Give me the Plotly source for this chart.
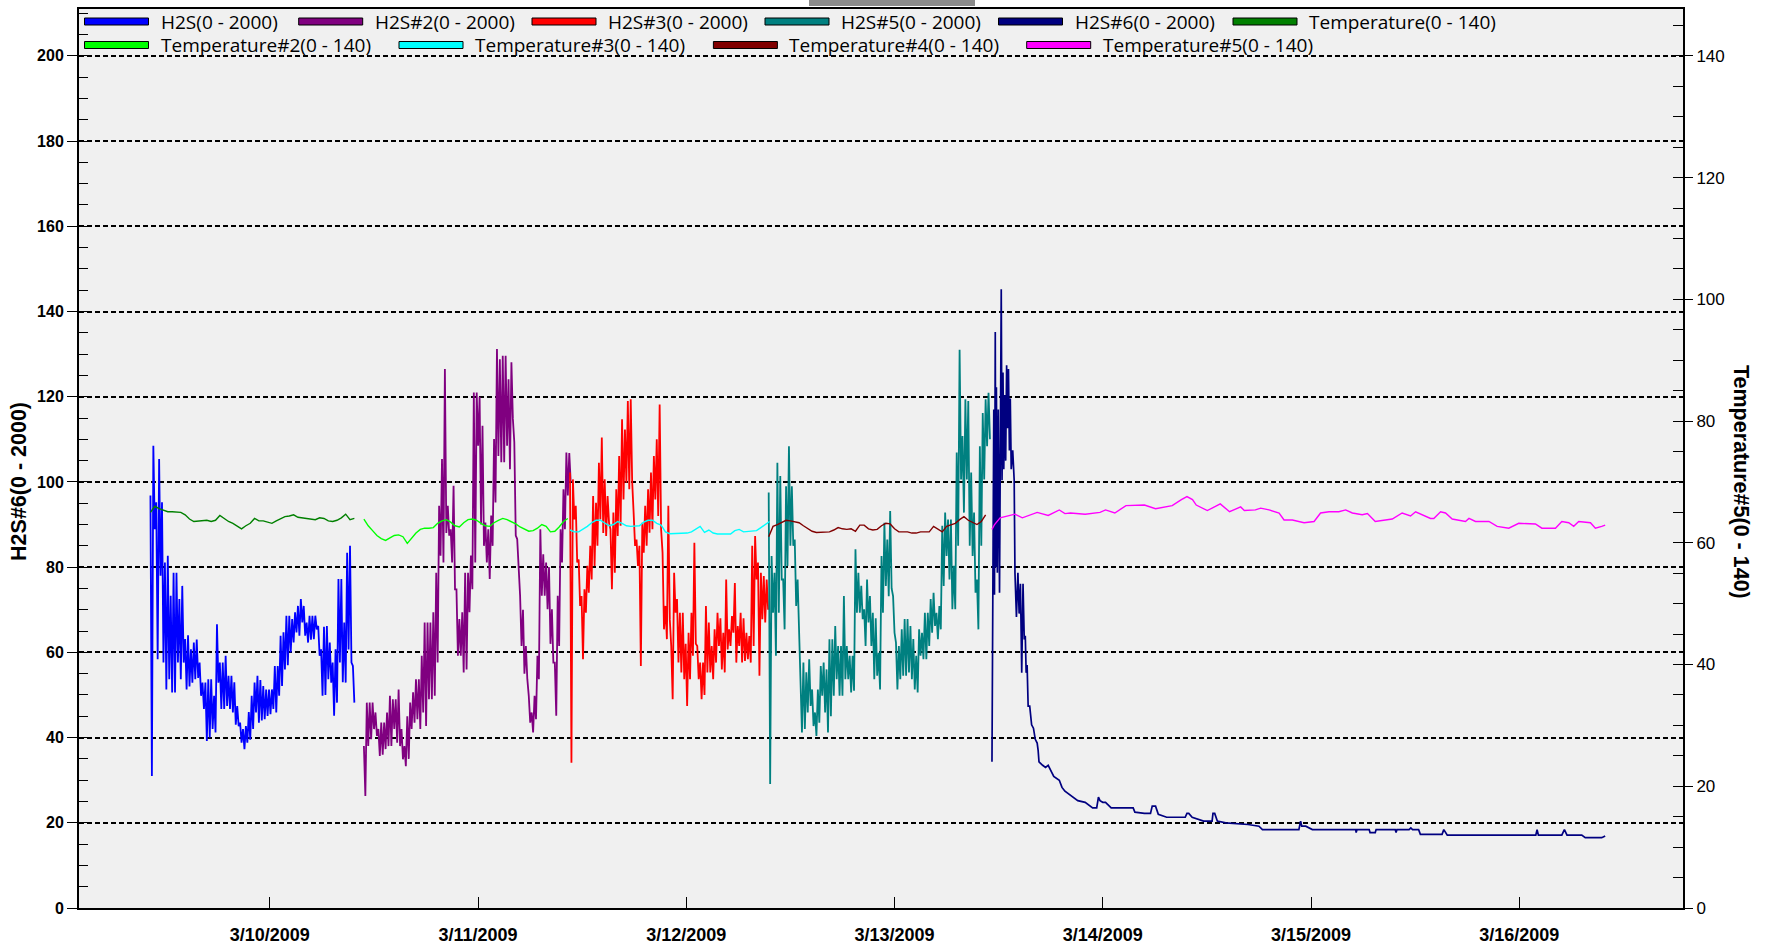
import pandas as pd
import plotly.graph_objects as go

# ---------------- data ----------------
# The H2S probes are very noisy: for every 20-minute slot the picture shows a
# high and a low reading; they are stored as separate lists and drawn
# high, low, high, low ... at 10-minute spacing.
SLOT_HALF = "10min"
TEMP_STEP = "30min"

h2s_1_start = "2009-03-09 10:15"
h2s_1_hi = [96.8, 108.5, 95.2, 105.4, 95.2, 81.1, 82.7, 73.3, 78.7, 78.7, 72.5, 75.6, 63.1, 64.0,
            60.7, 62.3, 63.0, 57.6, 52.9, 52.9, 53.7, 53.7, 49.8, 66.6, 57.6, 57.6, 59.2, 54.5,
            54.5, 53.0, 47.4, 43.5, 42.0, 42.7, 46.0, 49.8, 52.9, 54.5, 53.5, 52.1, 51.3, 51.3,
            51.3, 56.8, 56.8, 63.9, 64.7, 68.6, 68.6, 67.8, 69.4, 70.9, 72.5, 70.9, 67.0, 68.6,
            68.6, 68.6, 66.2, 60.7, 66.0, 66.2, 62.3, 57.6, 60.7, 77.2, 77.2, 67.0, 83.4, 85.0,
            56.8]
h2s_1_lo = [31.0, 88.9, 58.4, 78.0, 57.6, 51.3, 53.7, 50.6, 50.6, 57.6, 53.7, 57.6, 51.3, 52.0,
            52.9, 53.7, 54.0, 49.8, 46.7, 39.2, 40.0, 42.0, 41.2, 52.9, 46.7, 46.7, 47.4, 46.7,
            45.9, 43.0, 42.7, 38.8, 37.3, 38.8, 39.5, 42.0, 45.9, 43.5, 44.0, 44.3, 45.1, 45.5,
            46.7, 45.9, 49.8, 52.1, 56.0, 57.0, 60.0, 62.3, 64.7, 63.9, 67.0, 63.9, 62.3, 63.0,
            63.1, 65.4, 59.2, 49.8, 50.0, 53.7, 52.9, 45.1, 48.2, 57.6, 53.0, 52.9, 60.7, 57.6,
            48.2]

temp_1_start = "2009-03-09 10:15"
temp_1 = [65.0, 66.0, 65.6, 65.3, 65.1, 65.1, 65.0, 65.0, 64.6, 63.9, 63.5, 63.6, 63.6, 63.7,
          63.5, 63.7, 64.5, 64.0, 63.5, 63.2, 62.8, 62.3, 62.8, 63.2, 64.0, 63.6, 63.6, 63.4,
          63.2, 63.6, 64.0, 64.3, 64.4, 64.6, 64.2, 64.1, 64.0, 63.9, 63.8, 64.1, 64.0, 63.6,
          63.5, 63.7, 64.1, 64.7, 63.8, 64.0]

h2s_2_start = "2009-03-10 10:51"
h2s_2_hi = [38.0, 48.2, 48.2, 48.2, 45.9, 42.0, 43.5, 43.5, 45.9, 49.8, 49.0, 49.0, 51.3, 42.0,
            38.0, 45.0, 48.2, 50.6, 53.7, 53.7, 59.2, 67.0, 67.0, 67.0, 69.4, 78.7, 94.4, 105.4,
            126.5, 94.4, 88.9, 99.1, 74.8, 67.8, 69.4, 78.7, 78.7, 82.7, 121.0, 121.0, 120.0,
            113.2, 90.5, 88.9, 92.1, 110.1, 131.2, 128.8, 129.6, 129.6, 124.1, 128.1, 109.3, 86.6,
            73.3, 70.0, 61.5, 49.8, 45.9, 49.8, 59.2, 88.9, 83.0, 81.1, 80.0, 70.1, 57.6, 73.3,
            88.9, 98.3, 106.9, 106.8]
h2s_2_lo = [26.3, 38.0, 39.6, 42.0, 40.4, 35.7, 36.0, 37.3, 38.0, 38.0, 42.0, 38.8, 38.0, 34.9,
            33.3, 35.0, 42.0, 43.5, 44.3, 42.0, 45.9, 42.7, 49.0, 49.0, 49.8, 57.6, 82.7, 81.1,
            88.0, 87.4, 81.1, 74.8, 59.2, 59.2, 55.3, 56.0, 69.4, 74.8, 81.1, 108.5, 90.0,
            85.0, 81.1, 77.2, 85.0, 95.2, 106.1, 104.6, 104.6, 108.5, 103.0, 114.8, 87.4, 81.1,
            61.5, 55.0, 53.7, 43.5, 41.2, 44.3, 53.7, 73.3, 73.3, 70.1, 62.0, 57.6, 45.1, 61.5,
            81.1, 88.9, 96.8, 100.0]

temp_2_start = "2009-03-10 10:51"
temp_2 = [63.9, 62.8, 62.0, 61.2, 60.7, 60.4, 60.8, 61.2, 61.3, 61.0, 59.9, 60.8, 61.6, 62.2,
          62.4, 62.4, 62.5, 63.2, 63.6, 63.8, 63.4, 62.8, 62.6, 63.3, 63.8, 63.9, 63.7, 63.2,
          62.8, 62.7, 63.3, 63.7, 64.0, 63.8, 63.5, 63.1, 62.6, 62.2, 61.9, 62.0, 62.4, 63.0,
          62.7, 61.8, 61.9, 62.6, 63.5, 64.0]

h2s_3_start = "2009-03-11 10:36"
h2s_3_hi = [102.2, 100.6, 94.4, 81.8, 73.2, 74.8, 80.3, 85.0, 96.7, 95.1, 104.5, 110.4, 100.6,
            96.7, 88.9, 92.8, 98.3, 106.1, 114.7, 112.3, 119.0, 119.4, 92.8, 86.5, 85.0, 90.4,
            94.4, 98.3, 102.2, 106.1, 110.0, 118.2, 83.4, 70.9, 94.4, 61.5, 78.7, 72.5, 69.3,
            69.3, 62.0, 64.6, 69.3, 85.7, 61.5, 57.6, 57.6, 70.9, 67.0, 61.5, 65.4, 69.3, 68.0,
            64.6, 77.1, 65.4, 68.5, 76.3, 66.2, 69.3, 68.0, 64.6, 63.8, 85.0, 87.3, 81.1, 78.7,
            77.9, 77.1]
h2s_3_lo = [34.1, 91.2, 81.1, 70.9, 58.4, 69.3, 74.0, 77.1, 80.3, 85.0, 91.2, 88.0, 87.3,
            90.4, 74.8, 78.7, 87.3, 89.7, 95.9, 99.8, 98.3, 100.0, 85.0, 80.3, 56.8, 83.4,
            85.0, 88.1, 88.9, 95.9, 92.0, 88.9, 65.4, 63.1, 67.8, 49.0, 69.3, 57.6, 55.3,
            53.7, 47.4, 53.7, 59.2, 62.0, 53.7, 49.0, 50.0, 55.3, 55.3, 53.7, 57.6, 61.5, 56.0,
            55.3, 60.7, 61.5, 64.6, 57.6, 61.5, 57.6, 58.0, 58.4, 57.6, 61.5, 77.1, 54.5, 67.8,
            67.0, 70.0]

temp_3_start = "2009-03-11 10:36"
temp_3 = [62.1, 61.8, 61.8, 62.2, 62.7, 63.3, 63.7, 63.7, 63.2, 62.8, 63.0, 63.5, 63.2, 62.8,
          62.7, 62.7, 62.8, 63.4, 63.7, 63.7, 63.2, 62.9, 61.8, 61.5, 61.5, 61.5, 61.6, 61.6,
          61.8, 62.2, 62.7, 61.7, 62.1, 61.6, 61.45, 61.45, 61.5, 61.45, 62.0, 62.2, 61.8, 61.9,
          61.9, 62.0, 62.5, 63.0, 63.5]

h2s_5_start = "2009-03-12 09:30"
h2s_5_hi = [97.5, 82.6, 78.7, 104.5, 101.4, 77.1, 99.0, 108.4, 99.0, 86.5, 77.1, 57.6, 57.6,
            55.3, 58.4, 51.3, 45.9, 51.3, 56.8, 57.6, 56.0, 63.1, 63.1, 66.2, 61.5, 61.5, 73.2,
            61.5, 59.2, 59.2, 84.2, 78.7, 75.6, 70.1, 77.1, 73.2, 69.3, 68.0, 59.9, 82.6, 90.4,
            86.5, 93.2, 73.2, 62.3, 61.5, 65.4, 67.8, 67.8, 66.2, 63.1, 59.2, 65.4, 64.6, 69.3,
            69.3, 72.5, 74.0, 69.3, 70.9, 89.7, 92.8, 91.2, 91.2, 80.3, 106.9, 131.0, 110.8,
            119.4, 119.0, 102.2, 92.8, 77.1, 108.4, 116.2, 119.4, 120.9]
h2s_5_lo = [29.1, 69.3, 59.2, 69.3, 77.1, 65.4, 80.3, 85.0, 85.0, 70.9, 64.6, 41.2, 42.0,
            45.9, 47.4, 42.7, 40.4, 43.5, 49.8, 45.9, 41.2, 45.0, 49.8, 53.7, 49.8, 49.8, 53.7,
            53.7, 50.6, 51.0, 69.3, 69.3, 67.8, 61.5, 67.0, 61.5, 53.7, 54.5, 51.3, 69.3, 75.6,
            73.2, 75.0, 64.6, 51.3, 53.7, 54.5, 54.5, 55.3, 53.7, 51.3, 50.6, 59.2, 58.4, 58.4,
            61.5, 64.6, 66.2, 63.1, 65.4, 75.6, 82.6, 77.1, 70.1, 70.1, 85.0, 100.6, 92.8,
            100.6, 85.0, 82.6, 74.0, 65.4, 85.0, 100.6, 108.4, 110.0]

temp_4_start = "2009-03-12 09:30"
temp_4 = [61.0, 62.7, 63.0, 63.3, 63.7, 63.6, 63.5, 63.3, 62.8, 62.3, 61.9, 61.7, 61.7, 61.8,
          61.8, 62.1, 62.5, 62.3, 62.2, 62.3, 61.9, 62.9, 62.9, 62.3, 62.1, 62.2, 62.8, 63.2,
          63.1, 62.3, 61.8, 61.8, 61.8, 61.6, 61.6, 61.8, 61.8, 61.8, 62.7, 62.2, 61.8, 62.7,
          63.0, 63.2, 63.8, 64.3, 63.7, 63.4, 63.0, 63.5, 64.6]

# (hours after 3/13/2009 00:00, value)
h2s_6_origin = "2009-03-13 00:00"
h2s_6 = [(11.23, 34.3), (11.30, 72.6), (11.44, 117.0), (11.52, 73.5), (11.61, 135.2),
         (11.68, 80.0), (11.74, 122.2), (11.85, 78.7), (11.96, 117.0), (12.10, 74.0),
         (12.30, 145.2), (12.39, 100.4), (12.50, 125.7), (12.59, 103.0), (12.70, 120.4),
         (12.81, 105.0), (12.92, 127.4), (13.02, 112.6), (13.13, 126.5), (13.24, 107.4),
         (13.34, 119.6), (13.45, 103.0), (13.62, 107.4), (13.79, 100.4), (13.88, 78.7),
         (14.05, 68.3), (14.22, 78.7), (14.36, 69.1), (14.51, 76.1), (14.66, 55.2),
         (14.81, 76.1), (14.95, 63.0), (15.07, 63.9), (15.17, 55.2), (15.28, 57.0),
         (15.40, 47.4), (15.58, 47.4), (15.80, 43.0), (16.01, 42.2), (16.22, 39.6),
         (16.44, 38.7), (16.55, 37.0), (16.65, 34.3), (17.07, 33.5), (17.40, 33.0),
         (17.71, 33.5), (18.35, 30.9), (18.99, 30.0), (19.30, 28.3), (19.64, 27.4),
         (20.27, 26.5), (21.12, 25.2), (21.97, 24.8), (22.83, 23.5), (23.30, 23.5),
         (23.50, 26.0), (23.68, 25.2), (24.00, 24.8), (24.32, 24.8), (24.97, 23.5),
         (26.67, 23.5), (27.50, 23.5), (27.70, 22.5), (28.80, 22.2), (29.50, 22.2),
         (29.70, 23.9), (30.08, 23.9), (30.40, 22.0), (31.36, 21.3), (33.06, 21.3),
         (33.50, 21.3), (33.70, 22.2), (33.91, 22.2), (34.30, 21.3), (35.62, 20.4),
         (36.60, 20.4), (36.70, 22.2), (36.90, 22.2), (37.20, 20.4), (38.18, 20.0),
         (40.74, 19.6), (42.00, 19.2), (42.40, 18.4), (46.60, 18.4), (46.80, 20.4),
         (46.93, 19.2), (47.39, 19.2), (48.15, 18.4), (53.15, 18.4), (53.20, 17.7),
         (53.30, 18.4), (54.70, 18.4), (54.80, 17.7), (55.40, 17.7), (55.50, 18.4),
         (57.70, 18.4), (57.80, 17.7), (57.90, 18.4), (59.30, 18.4), (59.50, 18.8),
         (59.70, 18.4), (60.40, 18.4), (60.60, 17.3), (63.10, 17.3), (63.30, 18.4),
         (63.70, 17.1), (73.90, 17.1), (74.05, 18.4), (74.20, 17.1), (76.90, 17.1),
         (77.20, 18.4), (77.50, 17.1), (79.20, 17.1), (79.60, 16.5), (81.50, 16.5),
         (81.90, 16.9)]

temp_5 = [(11.23, 62.2), (11.53, 63.0), (12.17, 64.1), (13.88, 64.7), (14.73, 64.1),
          (16.44, 65.0), (17.71, 64.5), (18.99, 65.4), (19.64, 64.8), (20.27, 64.9),
          (21.97, 64.7), (23.68, 65.0), (24.32, 65.4), (25.39, 64.9), (26.67, 66.1),
          (28.80, 66.2), (30.08, 65.6), (32.00, 66.1), (33.06, 67.1), (33.70, 67.6),
          (34.34, 67.1), (34.77, 66.2), (36.05, 65.3), (37.54, 66.4), (38.61, 65.1),
          (39.89, 65.9), (40.31, 65.3), (41.59, 65.4), (42.20, 65.7), (43.16, 65.4),
          (44.32, 64.9), (44.89, 63.75), (45.85, 63.75), (46.60, 63.5), (47.20, 63.3),
          (48.35, 63.5), (49.10, 64.9), (50.07, 65.1), (51.20, 65.1), (51.99, 65.4),
          (52.76, 64.9), (53.90, 64.6), (54.50, 64.8), (55.40, 63.5), (56.60, 63.75),
          (57.36, 63.9), (58.50, 64.9), (59.47, 64.4), (60.05, 65.1), (60.80, 64.6),
          (61.77, 64.0), (62.15, 64.0), (62.93, 65.1), (63.50, 64.9), (64.27, 63.9),
          (65.80, 63.5), (66.20, 64.0), (66.95, 63.5), (68.50, 63.5), (69.45, 62.7),
          (70.79, 62.4), (71.94, 63.2), (73.86, 63.1), (74.60, 62.4), (76.17, 62.4),
          (76.90, 63.5), (77.70, 63.3), (78.27, 62.7), (78.85, 63.5), (80.20, 63.3),
          (80.77, 62.4), (81.50, 62.7), (81.90, 62.9)]

tick_dates = ["2009-03-10", "2009-03-11", "2009-03-12", "2009-03-13",
              "2009-03-14", "2009-03-15", "2009-03-16"]
tick_text = ["3/10/2009", "3/11/2009", "3/12/2009", "3/13/2009",
             "3/14/2009", "3/15/2009", "3/16/2009"]

series_names = ["H2S(0 - 2000)", "H2S#2(0 - 2000)", "H2S#3(0 - 2000)", "H2S#5(0 - 2000)",
                "H2S#6(0 - 2000)", "Temperature(0 - 140)", "Temperature#2(0 - 140)",
                "Temperature#3(0 - 140)", "Temperature#4(0 - 140)", "Temperature#5(0 - 140)"]
series_colors = ["#0000ff", "#800080", "#ff0000", "#008080", "#000080",
                 "#008000", "#00ff00", "#00ffff", "#800000", "#ff00ff"]

# ---------------- figure ----------------
W, H = 1767, 945
PL, PR, PT, PB = 79, 1683, 9, 908


def px_x(px):
    return (px - PL) / (PR - PL)


def px_y(py):
    return (PB - py) / (PB - PT)


def regular(start, freq, vals):
    return pd.date_range(start=start, periods=len(vals), freq=freq), vals


def hi_lo(start, hi, lo):
    vals = []
    for h, l in zip(hi, lo):
        vals.extend([h, l])
    return pd.date_range(start=start, periods=len(vals), freq=SLOT_HALF), vals


def by_hours(origin, pts):
    t0 = pd.Timestamp(origin)
    xs = [t0 + pd.Timedelta(hours=h) for h, _ in pts]
    ys = [v for _, v in pts]
    return xs, ys


fig = go.Figure()


def add(xy, color, width, axis):
    x, y = xy
    fig.add_trace(go.Scatter(x=x, y=y, mode="lines", yaxis=axis, showlegend=False,
                             hoverinfo="skip",
                             line=dict(color=color, width=width)))


add(hi_lo(h2s_1_start, h2s_1_hi, h2s_1_lo), series_colors[0], 1.8, "y")
add(hi_lo(h2s_2_start, h2s_2_hi, h2s_2_lo), series_colors[1], 1.8, "y")
add(hi_lo(h2s_3_start, h2s_3_hi, h2s_3_lo), series_colors[2], 1.8, "y")
add(hi_lo(h2s_5_start, h2s_5_hi, h2s_5_lo), series_colors[3], 1.8, "y")
add(by_hours(h2s_6_origin, h2s_6), series_colors[4], 1.7, "y")
add(regular(temp_1_start, TEMP_STEP, temp_1), series_colors[5], 1.4, "y2")
add(regular(temp_2_start, TEMP_STEP, temp_2), series_colors[6], 1.4, "y2")
add(regular(temp_3_start, TEMP_STEP, temp_3), series_colors[7], 1.4, "y2")
add(regular(temp_4_start, TEMP_STEP, temp_4), series_colors[8], 1.4, "y2")
add(by_hours(h2s_6_origin, temp_5), series_colors[9], 1.4, "y2")

FONT = "Liberation Sans"

fig.update_layout(
    width=W, height=H,
    margin=dict(l=PL, r=W - PR, t=PT, b=H - PB, autoexpand=False),
    paper_bgcolor="#ffffff",
    plot_bgcolor="#f0f0f0",
    showlegend=False,
    xaxis=dict(
        type="date",
        range=["2009-03-09 02:01", "2009-03-16 18:52"],
        tickmode="array", tickvals=tick_dates, ticktext=tick_text,
        ticks="inside", ticklen=11, tickwidth=1, tickcolor="#000000",
        tickfont=dict(family=FONT, size=18, color="#000000", weight="bold"),
        ticklabelstandoff=9,
        showgrid=False, zeroline=False,
        showline=True, linecolor="#000000", linewidth=2, mirror=True,
    ),
    yaxis=dict(
        range=[0, 211.0],
        tickmode="linear", tick0=0, dtick=20,
        ticks="outside", ticklen=10, tickwidth=1, tickcolor="#000000",
        tickfont=dict(family=FONT, size=16, color="#000000", weight="bold"),
        minor=dict(dtick=5, tick0=0, ticks="inside", ticklen=9, tickwidth=1,
                   tickcolor="#000000", showgrid=False),
        showgrid=True, gridcolor="#000000", gridwidth=1.7, griddash="5px,3px",
        zeroline=False,
        showline=True, linecolor="#000000", linewidth=2,
    ),
    yaxis2=dict(
        overlaying="y", side="right",
        range=[0, 147.7],
        tickmode="linear", tick0=0, dtick=20,
        ticks="outside", ticklen=8, tickwidth=1, tickcolor="#000000",
        tickfont=dict(family=FONT, size=17, color="#000000"),
        minor=dict(dtick=5, tick0=0, ticks="inside", ticklen=10, tickwidth=1,
                   tickcolor="#000000", showgrid=False),
        showgrid=False, zeroline=False,
        showline=True, linecolor="#000000", linewidth=2,
    ),
)

annotations = [
    dict(text="<b>H2S#6(0 - 2000)</b>", xref="paper", yref="y", x=px_x(19), y=100,
         textangle=-90, showarrow=False, xanchor="center", yanchor="middle",
         font=dict(family=FONT, size=21.5, color="#000000")),
    dict(text="<b>Temperature#5(0 - 140)</b>", xref="paper", yref="y", x=px_x(1741), y=100,
         textangle=90, showarrow=False, xanchor="center", yanchor="middle",
         font=dict(family=FONT, size=21.5, color="#000000")),
]

shapes = [
    dict(type="rect", xref="paper", yref="paper", x0=px_x(809), x1=px_x(975),
         y0=px_y(6), y1=px_y(0), fillcolor="#8c8c8c", line=dict(width=0), layer="above"),
]

# legend drawn inside the top of the frame, two rows
legend_sym_x = [84.5, 298.7, 532, 765, 998.5, 1233, 84.5, 399, 713.4, 1026.7]
legend_row_y = [21.5, 21.5, 21.5, 21.5, 21.5, 21.5, 45, 45, 45, 45]
for name, color, sx, ry in zip(series_names, series_colors, legend_sym_x, legend_row_y):
    shapes.append(dict(type="rect", xref="paper", yref="paper",
                       x0=px_x(sx), x1=px_x(sx + 64), y0=px_y(ry + 3.5), y1=px_y(ry - 3.5),
                       fillcolor=color, line=dict(color="#000000", width=1), layer="above"))
    annotations.append(dict(text=name, xref="paper", yref="paper", x=px_x(sx + 74),
                            y=px_y(ry), xanchor="left", yanchor="middle", showarrow=False,
                            font=dict(family="Open Sans", size=19, color="#000000")))

fig.update_layout(annotations=annotations, shapes=shapes)

fig.write_html("out.html", config={"displayModeBar": False},
               post_script="document.body.style.margin='0';")
